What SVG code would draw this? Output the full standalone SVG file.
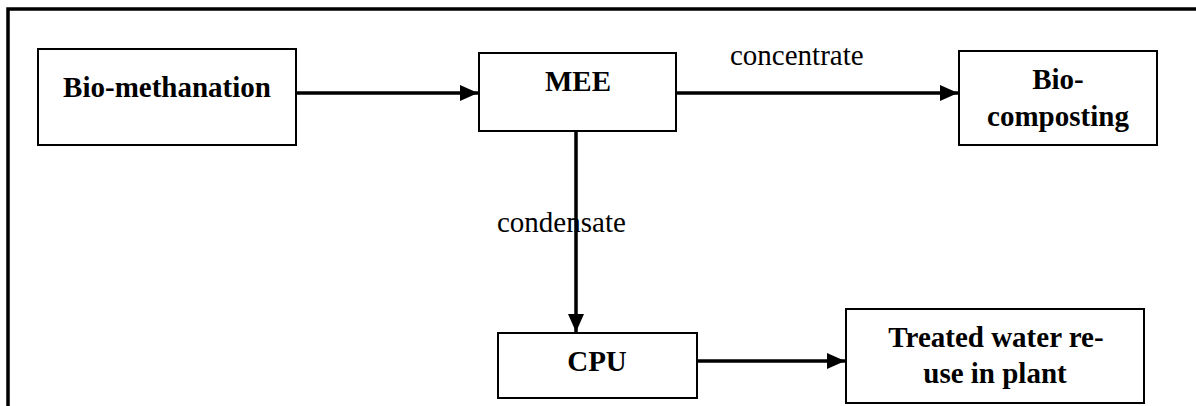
<svg xmlns="http://www.w3.org/2000/svg" width="1196" height="406" viewBox="0 0 1196 406">
  <style>
    .box { fill: #fff; stroke: #000; stroke-width: 2; }
    .lbl { font-family: "Liberation Serif", "Times New Roman", serif; font-size: 29px; font-weight: bold; fill: #000; text-anchor: middle; }
    .edge { font-family: "Liberation Serif", "Times New Roman", serif; font-size: 29px; fill: #000; }
    .wire { fill: none; stroke: #000; stroke-width: 3.5; }
    .frame { fill: none; stroke: #000; stroke-width: 3.5; }
  </style>
  <defs>
    <marker id="arrow" viewBox="0 0 18 16" refX="18" refY="8" markerWidth="18" markerHeight="16" markerUnits="userSpaceOnUse" orient="auto">
      <path d="M0,0 L18,8 L0,16 Z" fill="#000"/>
    </marker>
  </defs>

  <rect width="1196" height="406" fill="#fff"/>

  <!-- open frame: top and left edges only -->
  <path class="frame" d="M8,406 L8,9 L1196,9"/>

  <g id="connectors">
    <line class="wire" x1="297" y1="93" x2="478" y2="93" marker-end="url(#arrow)"/>
    <line class="wire" x1="677" y1="93" x2="958" y2="93" marker-end="url(#arrow)"/>
    <line class="wire" x1="576" y1="131" x2="576" y2="332" marker-end="url(#arrow)"/>
    <line class="wire" x1="697" y1="361" x2="845" y2="361" marker-end="url(#arrow)"/>
    <text class="edge" x="730" y="65">concentrate</text>
    <text class="edge" x="497" y="232">condensate</text>
  </g>

  <g id="bio-methanation">
    <rect class="box" x="38" y="49" width="258" height="96"/>
    <text class="lbl" x="167" y="97">Bio-methanation</text>
  </g>

  <g id="mee">
    <rect class="box" x="479" y="53" width="197" height="78"/>
    <text class="lbl" x="578" y="91">MEE</text>
  </g>

  <g id="bio-composting">
    <rect class="box" x="959" y="51" width="198" height="94"/>
    <text class="lbl" x="1058" y="89">Bio-</text>
    <text class="lbl" x="1058" y="126">composting</text>
  </g>

  <g id="cpu">
    <rect class="box" x="498" y="333" width="199" height="65"/>
    <text class="lbl" x="597" y="371">CPU</text>
  </g>

  <g id="treated-water">
    <rect class="box" x="846" y="309" width="298" height="94"/>
    <text class="lbl" x="996" y="347">Treated water re-</text>
    <text class="lbl" x="995" y="383">use in plant</text>
  </g>
</svg>
